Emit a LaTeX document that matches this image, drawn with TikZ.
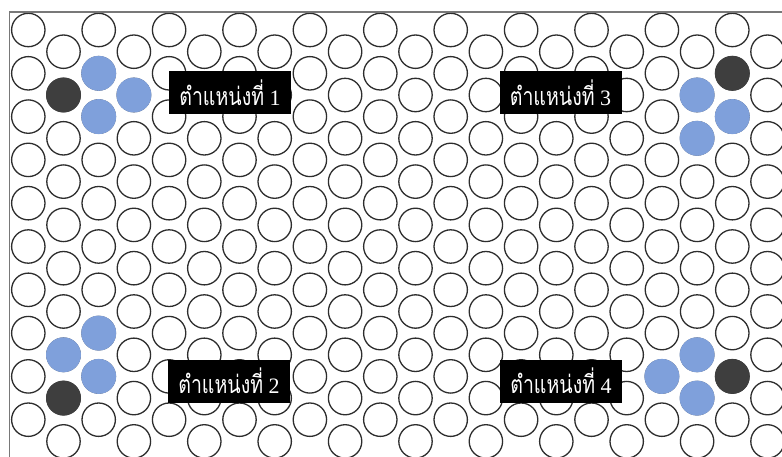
\documentclass[tikz,border=0pt]{standalone}
\usepackage{fontspec}
\setmainfont{Liberation Serif}
\newfontfamily\thaifont[Script=Thai,FakeStretch=0.78]{Loma}
\definecolor{blueball}{RGB}{127,160,219}
\definecolor{darkball}{RGB}{62,62,62}
\definecolor{framegray}{RGB}{120,120,120}
\definecolor{ringgray}{RGB}{45,45,45}
\tikzset{
  ring/.style={draw=ringgray, line width=1.3pt, fill=white},
  blueb/.style={fill=blueball},
  darkb/.style={fill=darkball},
  tag/.style={fill=black, text=white, minimum width=122pt, minimum height=43pt, inner sep=0pt, font=\fontsize{22}{22}\selectfont},
  frameline/.style={draw=framegray, line width=1.5pt}
}
\newcommand{\thaipos}[1]{{\fontsize{25}{25}\thaifont ตำแหน่งที่}\ #1}
\begin{document}
\begin{tikzpicture}[x=1pt,y=-1pt]
\useasboundingbox (0,0) rectangle (782,457);
\fill[white] (0,0) rectangle (782,457);
% hexagonal packing of circles
\foreach \c in {0,...,21} {
  \pgfmathsetmacro\xx{28.3+35.2*\c}
  \pgfmathsetmacro\yy{ifthenelse(mod(\c,2)==0,30,51.7)}
  \foreach \r in {0,...,9} {
    \draw[ring] ({\xx},{\yy+43.3*\r}) circle (16.7);
  }
}
% position 1
\fill[darkb] (63.5,95) circle (17.5);
\fill[blueb] (98.7,73.3) circle (17.5);
\fill[blueb] (98.7,116.6) circle (17.5);
\fill[blueb] (133.9,95) circle (17.5);
% position 2
\fill[darkb] (63.5,398.1) circle (17.5);
\fill[blueb] (63.5,354.8) circle (17.5);
\fill[blueb] (98.7,333.1) circle (17.5);
\fill[blueb] (98.7,376.4) circle (17.5);
% position 3
\fill[darkb] (732.3,73.3) circle (17.5);
\fill[blueb] (697.1,95) circle (17.5);
\fill[blueb] (697.1,138.3) circle (17.5);
\fill[blueb] (732.3,116.6) circle (17.5);
% position 4
\fill[darkb] (732.3,376.4) circle (17.5);
\fill[blueb] (697.1,354.8) circle (17.5);
\fill[blueb] (661.9,376.4) circle (17.5);
\fill[blueb] (697.1,398.1) circle (17.5);
% labels
\node[tag] (p1) at (230,92.5) {\thaipos{1}};
\node[tag] (p2) at (229,381) {\thaipos{2}};
\node[tag] (p3) at (560.5,92.5) {\thaipos{3}};
\node[tag] (p4) at (561,381) {\thaipos{4}};
% frame
\coordinate (tl) at (9.5,12);
\coordinate (tr) at (782,12);
\coordinate (bl) at (9.5,457);
\draw[frameline] (tr) -- (tl) -- (bl);
\end{tikzpicture}
\end{document}
